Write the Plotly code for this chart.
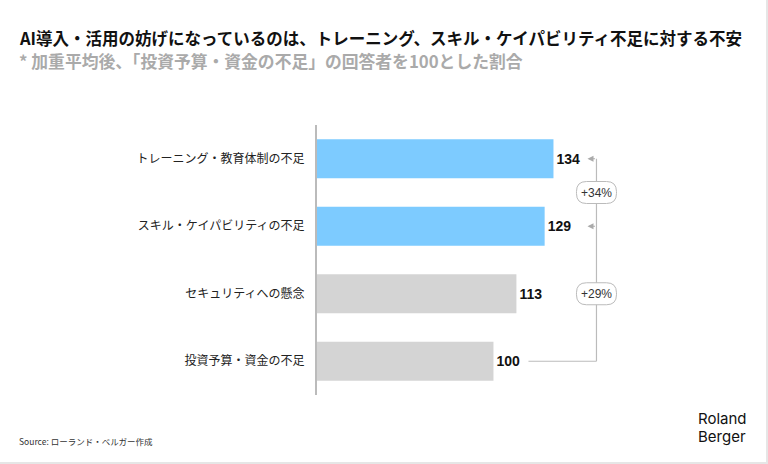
import plotly.graph_objects as go

categories = ["トレーニング・教育体制の不足", "スキル・ケイパビリティの不足", "セキュリティへの懸念", "投資予算・資金の不足"]
values = [134, 129, 113, 100]
colors = ["#7DCBFF", "#7DCBFF", "#D4D4D4", "#D4D4D4"]
diff_labels = ["+34%", "+29%"]

title = "AI導入・活用の妨げになっているのは、トレーニング、スキル・ケイパビリティ不足に対する不安"
subtitle = "* 加重平均後、「投資予算・資金の不足」の回答者を100とした割合"
source = "Source: ローランド・ベルガー作成"

W, H = 768, 464
ML, MR, MT, MB = 317, 151, 125, 69
PW, PH = W - ML - MR, H - MT - MB
XMAX = 170

def px(x):
    return (x - ML) / PW

def py(y):
    return (H - MB - y) / PH

FONT = "Noto Sans CJK JP"

fig = go.Figure(go.Bar(
    x=values, y=categories, orientation="h",
    marker=dict(color=colors, line=dict(width=0)),
    text=[str(v) for v in values], textposition="outside",
    textfont=dict(family="Liberation Sans", size=14, color="#111111", weight="bold"),
    cliponaxis=False, hoverinfo="skip",
))

n = len(categories)
step = PH / n
cy = [MT + step * (i + 0.5) for i in range(n)]

def xpix(v):
    return ML + v / XMAX * PW

bx = xpix(max(values)) + 43
shapes = []
line_c = "#BBBBBB"
shapes.append(dict(type="line", xref="paper", yref="paper", x0=px(bx), x1=px(bx),
                   y0=py(cy[0]), y1=py(cy[3]), line=dict(color=line_c, width=1.2)))
shapes.append(dict(type="line", xref="paper", yref="paper", x0=px(xpix(values[3]) + 35), x1=px(bx),
                   y0=py(cy[3]), y1=py(cy[3]), line=dict(color=line_c, width=1.2)))

annotations = []
for i in (0, 1):
    annotations.append(dict(xref="paper", yref="paper", x=px(bx - 9), y=py(cy[i]),
                            ax=9, ay=0, showarrow=True, arrowhead=2, arrowsize=1,
                            arrowwidth=1.2, arrowcolor="#AAAAAA", text=""))

def pill(cxp, cyp, w=40, h=22, r=10):
    x0, x1 = cxp - w / 2, cxp + w / 2
    y0, y1 = cyp - h / 2, cyp + h / 2
    def P(x, y):
        return f"{px(x)},{py(y)}"
    path = (f"M {P(x0 + r, y0)} L {P(x1 - r, y0)} Q {P(x1, y0)} {P(x1, y0 + r)} "
            f"L {P(x1, y1 - r)} Q {P(x1, y1)} {P(x1 - r, y1)} L {P(x0 + r, y1)} "
            f"Q {P(x0, y1)} {P(x0, y1 - r)} L {P(x0, y0 + r)} Q {P(x0, y0)} {P(x0 + r, y0)} Z")
    return dict(type="path", xref="paper", yref="paper", path=path,
                fillcolor="white", line=dict(color="#BBBBBB", width=1))

pill_y = [(cy[0] + cy[1]) / 2, (cy[1] + cy[3]) / 2]
for lab, yy in zip(diff_labels, pill_y):
    shapes.append(pill(bx, yy))
    annotations.append(dict(xref="paper", yref="paper", x=px(bx), y=py(yy), text=lab,
                            xanchor="center", yanchor="middle",
                            showarrow=False, font=dict(family="Liberation Sans", size=12, color="#333333")))

shapes.append(dict(type="line", xref="paper", yref="paper", x0=px(W - 1), x1=px(W - 1), y0=py(0), y1=py(H),
                   line=dict(color="#E6E6E6", width=2)))
shapes.append(dict(type="line", xref="paper", yref="paper", x0=px(0), x1=px(W), y0=py(H - 1), y1=py(H - 1),
                   line=dict(color="#E6E6E6", width=2)))

annotations += [
    dict(xref="paper", yref="paper", x=px(17), y=py(38), xanchor="left", yanchor="middle", showarrow=False,
         text=f"<b>{title}</b>", font=dict(family=FONT, size=16.5, color="#111111")),
    dict(xref="paper", yref="paper", x=px(17), y=py(61), xanchor="left", yanchor="middle", showarrow=False,
         text=f"<b>{subtitle}</b>", font=dict(family=FONT, size=16.8, color="#AAAAAA")),
    dict(xref="paper", yref="paper", x=px(17), y=py(441), xanchor="left", yanchor="middle", showarrow=False,
         text=source, font=dict(family=FONT, size=8.5, color="#333333")),
    dict(xref="paper", yref="paper", x=px(696), y=py(418), xanchor="left", yanchor="middle", showarrow=False,
         text="Roland", font=dict(family="Inter", size=15, color="#111111")),
    dict(xref="paper", yref="paper", x=px(696), y=py(437), xanchor="left", yanchor="middle", showarrow=False,
         text="Berger", font=dict(family="Inter", size=15, color="#111111")),
]

fig.update_layout(
    width=W, height=H, margin=dict(l=ML, r=MR, t=MT, b=MB),
    paper_bgcolor="white", plot_bgcolor="white", showlegend=False,
    bargap=0.42,
    xaxis=dict(range=[0, XMAX], visible=False, fixedrange=True),
    yaxis=dict(autorange="reversed", showline=True, linecolor="#BBBBBB", linewidth=2,
               ticks="", showgrid=False, ticklabelstandoff=8,
               tickfont=dict(family=FONT, size=12, color="#222222")),
    shapes=shapes, annotations=annotations,
)

fig.write_html("out.html")
